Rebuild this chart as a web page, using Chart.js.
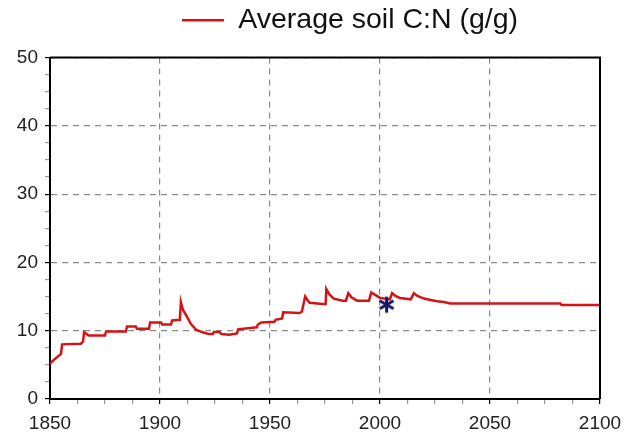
<!DOCTYPE html>
<html>
<head>
<meta charset="utf-8">
<script src="https://cdn.jsdelivr.net/npm/chart.js@4"></script>
<style>
  html, body { margin: 0; padding: 0; background: #fff; }
  #wrap { width: 624px; height: 435px; }
</style>
</head>
<body>
<div id="wrap"><canvas id="cnChart"></canvas></div>
<script>
// values
const years = [1850, 1852, 1855, 1855.5, 1864, 1865, 1865.5, 1867.5, 1875, 1875.5, 1884.5, 1885, 1889, 1889.5,
  1895, 1895.5, 1900.5, 1901, 1905, 1905.5, 1909, 1909.5, 1910.5, 1912, 1914, 1916.5, 1920, 1922.5, 1924,
  1924.5, 1927, 1928, 1931.5, 1935, 1935.5, 1944, 1944.5, 1946, 1952, 1952.5, 1955.5, 1956, 1963.5, 1964.5,
  1966, 1967, 1968, 1974, 1975.3, 1975.6, 1977, 1979, 1983, 1984.5, 1985.6, 1987, 1989.6, 1995, 1996, 1998,
  2000, 2004.5, 2005.5, 2007, 2009, 2014, 2015.4, 2017, 2020, 2023, 2026, 2029, 2032, 2082, 2082.5, 2100];
const cnValues = [5.2, 5.8, 6.6, 8.0, 8.1, 8.4, 9.8, 9.3, 9.3, 9.9, 9.9, 10.6, 10.6, 10.3,
  10.3, 11.2, 11.2, 10.9, 10.9, 11.5, 11.6, 14.2, 13.0, 12.2, 11.0, 10.1, 9.7, 9.5, 9.5,
  9.8, 9.8, 9.5, 9.4, 9.6, 10.2, 10.5, 10.9, 11.2, 11.3, 11.6, 11.8, 12.7, 12.6, 12.8,
  15.0, 14.5, 14.1, 13.9, 13.9, 16.1, 15.3, 14.7, 14.4, 14.4, 15.5, 14.9, 14.4, 14.4, 15.6, 15.2,
  14.8, 14.6, 15.5, 15.1, 14.8, 14.6, 15.5, 15.1, 14.7, 14.5, 14.3, 14.2, 14.0, 14.0, 13.75, 13.75];
const obsYear = [2003];
const obsValue = [13.8];

const xMin = 1850, xMax = 2100, xMajor = 50, xMinor = 12.5;
const yMin = 0, yMax = 50, yMajor = 10, yMinor = 2.5;

const isMajor = (v, step) => Math.abs(v % step) < 1e-6;

// six-armed asterisk for the observed point
function asterisk(size, color) {
  const c = document.createElement("canvas");
  c.width = size;
  c.height = size;
  const g = c.getContext("2d");
  const r = size / 2 - 1.5;
  g.strokeStyle = color;
  g.lineWidth = 3;
  g.translate(size / 2, size / 2);
  for (let k = 0; k < 3; k++) {
    const a = Math.PI / 2 + (k * Math.PI) / 3;
    g.beginPath();
    g.moveTo(Math.cos(a) * r, Math.sin(a) * r);
    g.lineTo(-Math.cos(a) * r, -Math.sin(a) * r);
    g.stroke();
  }
  return c;
}

// box lines on top and right of the plot
const frame = {
  id: "frame",
  afterDatasetsDraw(chart) {
    const { ctx, chartArea: a } = chart;
    ctx.save();
    ctx.strokeStyle = "#000";
    ctx.lineWidth = 2;
    ctx.beginPath();
    ctx.moveTo(a.left, a.top);
    ctx.lineTo(a.right, a.top);
    ctx.lineTo(a.right, a.bottom);
    ctx.stroke();
    ctx.restore();
  }
};

// legend sits right of centre and close to the top in the original
const legendShift = {
  id: "legendShift",
  afterLayout(chart) {
    chart.legend.left += 50;
    chart.legend.right += 50;
    chart.legend.top -= 13;
    chart.legend.bottom -= 13;
  }
};

Chart.defaults.font.family = "'Liberation Sans', Arial, sans-serif";
Chart.defaults.color = "#222";

new Chart(document.getElementById("cnChart"), {
  type: "line",
  data: {
    datasets: [
      {
        label: "Average soil C:N (g/g)",
        data: years.map((y, i) => ({ x: y, y: cnValues[i] })),
        borderColor: "#d41414",
        backgroundColor: "#d41414",
        borderWidth: 2.5,
        pointRadius: 0,
        tension: 0,
        order: 2
      },
      {
        label: "obs",
        data: obsYear.map((y, i) => ({ x: y, y: obsValue[i] })),
        showLine: false,
        pointStyle: asterisk(19, "#16166a"),
        pointRadius: 9,
        order: 1
      }
    ]
  },
  options: {
    responsive: true,
    maintainAspectRatio: false,
    animation: false,
    layout: { padding: { top: 2, right: 24, left: 0, bottom: 0 } },
    plugins: {
      tooltip: { enabled: false },
      legend: {
        position: "top",
        labels: {
          filter: (item) => item.datasetIndex === 0,
          usePointStyle: true,
          pointStyle: "line",
          pointStyleWidth: 42,
          color: "#111",
          font: { size: 28.5 },
          padding: 17
        }
      }
    },
    scales: {
      x: {
        type: "linear",
        min: xMin,
        max: xMax,
        afterFit: (s) => { s.height = 36; s.paddingRight = 0; },
        ticks: {
          stepSize: xMinor,
          autoSkip: false,
          maxRotation: 0,
          padding: 8,
          font: { size: 19 },
          color: "#222",
          callback: (v) => (isMajor(v, xMajor) ? v : "")
        },
        grid: {
          color: (c) => (isMajor(c.tick.value, xMajor) ? "#8a8a8a" : "transparent"),
          tickColor: (c) => (isMajor(c.tick.value, xMajor) ? "#000" : "#999"),
          lineWidth: 1.2,
          tickLength: 5
        },
        border: { color: "#000", width: 2, dash: [6, 5] }
      },
      y: {
        min: yMin,
        max: yMax,
        afterFit: (s) => { s.width = 50; },
        ticks: {
          stepSize: yMinor,
          autoSkip: false,
          padding: 7,
          font: { size: 19 },
          color: "#222",
          callback: (v) => (isMajor(v, yMajor) ? v : "")
        },
        grid: {
          color: (c) => (isMajor(c.tick.value, yMajor) ? "#8a8a8a" : "transparent"),
          tickColor: (c) => (isMajor(c.tick.value, yMajor) ? "#000" : "#999"),
          lineWidth: 1.2,
          tickLength: 5
        },
        border: { color: "#000", width: 2, dash: [6, 5] }
      }
    }
  },
  plugins: [frame, legendShift]
});
</script>
</body>
</html>
